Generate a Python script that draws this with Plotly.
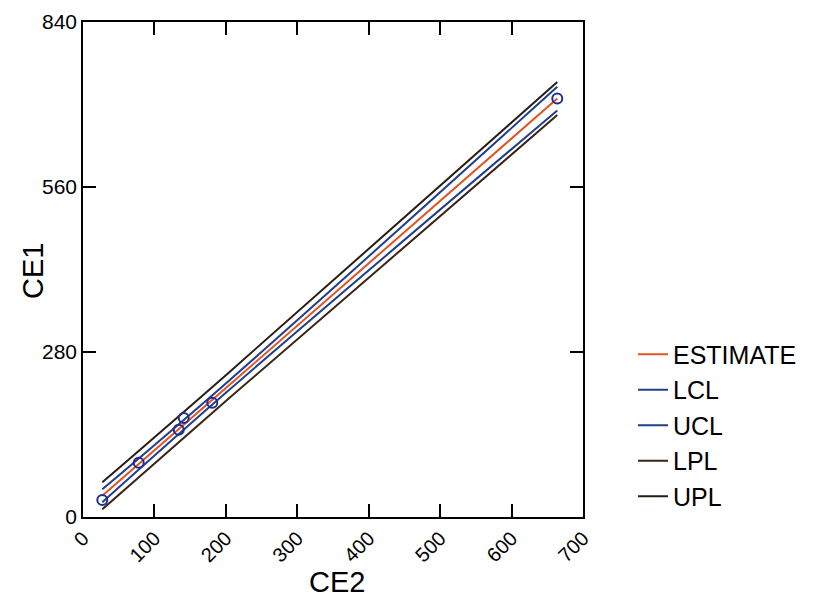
import plotly.graph_objects as go

# Observed data (CE2 on x, CE1 on y)
ce2 = [27, 78, 134, 141, 181, 664]
ce1 = [29, 92, 148, 168, 194, 710]

# Regression lines (x positions and y values)
line_x = [27, 204, 664]
estimate = [36, 223, 710]
lcl = [25, 215, 690]
ucl = [47, 231, 730]
lpl = [13, 201, 682]
upl = [59, 245, 738]

FONT = "Liberation Sans, Arial, sans-serif"
fig = go.Figure()

fig.add_trace(go.Scatter(x=line_x, y=estimate, mode="lines", name="ESTIMATE",
                         line=dict(color="#e2531f", width=2, shape="spline")))
fig.add_trace(go.Scatter(x=line_x, y=lcl, mode="lines", name="LCL",
                         line=dict(color="#1f3f8c", width=2, shape="spline")))
fig.add_trace(go.Scatter(x=line_x, y=ucl, mode="lines", name="UCL",
                         line=dict(color="#1f3f8c", width=2, shape="spline")))
fig.add_trace(go.Scatter(x=line_x, y=lpl, mode="lines", name="LPL",
                         line=dict(color="#3b2414", width=2, shape="spline")))
fig.add_trace(go.Scatter(x=line_x, y=upl, mode="lines", name="UPL",
                         line=dict(color="#2a1d14", width=2, shape="spline")))
fig.add_trace(go.Scatter(x=ce2, y=ce1, mode="markers", showlegend=False,
                         marker=dict(symbol="circle-open", size=10,
                                     color="#1f2f8a", line=dict(width=2))))

fig.update_layout(
    width=826, height=603,
    margin=dict(l=83, r=243, t=22, b=86),
    paper_bgcolor="white", plot_bgcolor="white",
    font=dict(family=FONT, color="black", size=20),
    legend=dict(x=1.1, y=0.375, xanchor="left", yanchor="top",
                font=dict(size=25, family=FONT), tracegroupgap=0,
                itemwidth=30, bgcolor="rgba(0,0,0,0)"),
    xaxis=dict(range=[0, 700], tickvals=[0, 100, 200, 300, 400, 500, 600, 700],
               ticks="inside", ticklen=13, tickcolor="black", tickwidth=1.5,
               showline=True, linecolor="black", linewidth=1.5, mirror="ticks",
               showgrid=False, zeroline=False, tickangle=-45, automargin=False,
               tickfont=dict(size=20)),
    yaxis=dict(range=[0, 840], tickvals=[0, 280, 560, 840],
               ticks="inside", ticklen=13, tickcolor="black", tickwidth=1.5,
               showline=True, linecolor="black", linewidth=1.5, mirror="ticks",
               showgrid=False, zeroline=False, automargin=False,
               tickfont=dict(size=21)),
    annotations=[
        dict(text="CE2", xref="paper", yref="paper", x=0.508, y=-0.131,
             xanchor="center", yanchor="middle", showarrow=False,
             font=dict(size=29, family=FONT)),
        dict(text="CE1", xref="paper", yref="paper", x=-0.1, y=0.497,
             xanchor="center", yanchor="middle", showarrow=False, textangle=-90,
             font=dict(size=29, family=FONT)),
    ],
)

fig.write_html("out.html")
